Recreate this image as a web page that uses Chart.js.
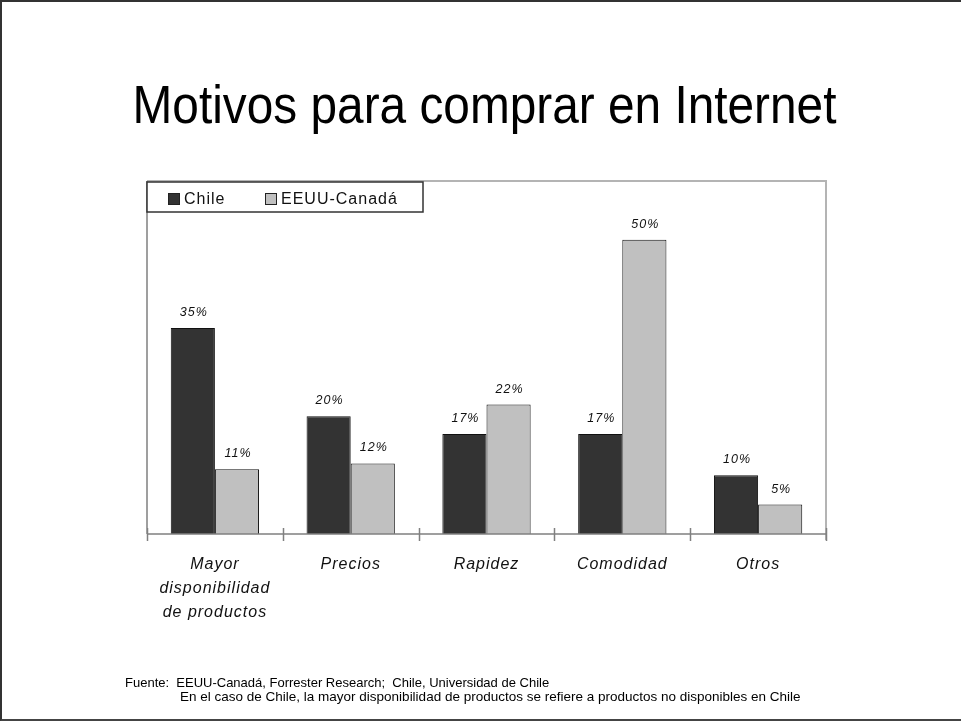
<!DOCTYPE html>
<html>
<head>
<meta charset="utf-8">
<title>Motivos para comprar en Internet</title>
<script src="https://cdn.jsdelivr.net/npm/chart.js@4/dist/chart.umd.min.js"></script>
<style>
  html, body { margin: 0; padding: 0; background: #fff; }
  #slide {
    position: relative; width: 961px; height: 721px; box-sizing: border-box;
    border-left: 2px solid #333; border-top: 2px solid #333; border-bottom: 2px solid #444;
    font-family: "Liberation Sans", Arial, sans-serif; color: #000; overflow: hidden;
  }
  #chartCanvas { position: absolute; left: -2px; top: -2px; }
  #title {
    position: absolute; left: -2px; top: 75px; width: 969px; text-align: center;
    font-size: 54px; line-height: 54px; white-space: nowrap;
    transform: scaleX(0.885); transform-origin: 484.5px 0;
  }
  .nota { position: absolute; line-height: 15px; white-space: nowrap; }
</style>
</head>
<body>
<div id="slide">
  <div id="title">Motivos para comprar en Internet</div>
  <canvas id="chartCanvas" width="961" height="721"></canvas>
  <div class="nota" style="left:123px; top:673px; font-size:13px;">Fuente:&nbsp; EEUU-Canadá, Forrester Research;&nbsp; Chile, Universidad de Chile</div>
  <div class="nota" style="left:178px; top:687px; font-size:13.5px;">En el caso de Chile, la mayor disponibilidad de productos se refiere a productos no disponibles en Chile</div>
</div>
<script>
const categories = [
  ["Mayor", "disponibilidad", "de productos"],
  "Precios",
  "Rapidez",
  "Comodidad",
  "Otros"
];
const chileValues = [35, 20, 17, 17, 10];
const eeuuValues = [11, 12, 22, 50, 5];
const seriesNames = ["Chile", "EEUU-Canadá"];
const seriesColors = ["#333333", "#c0c0c0"];

// spacing between letters, as the old slide renderer did
const spacingPlugin = {
  id: "spacing",
  beforeDraw(chart) { chart.ctx.letterSpacing = "1px"; }
};

// plot frame, category axis with its tick marks
const framePlugin = {
  id: "frame",
  afterDatasetsDraw(chart) {
    const ctx = chart.ctx;
    const a = chart.chartArea;
    const x = chart.scales.x;
    ctx.save();
    ctx.strokeStyle = "#b4b4b4";
    ctx.lineWidth = 2;
    ctx.beginPath();
    ctx.moveTo(a.left, a.top);
    ctx.lineTo(a.right, a.top);
    ctx.lineTo(a.right, a.bottom + 6);
    ctx.stroke();

    ctx.strokeStyle = "#808080";
    ctx.lineWidth = 1.5;
    ctx.beginPath();
    ctx.moveTo(a.left, a.top);
    ctx.lineTo(a.left, a.bottom);
    ctx.moveTo(a.left, a.bottom);
    ctx.lineTo(a.right, a.bottom);
    const step = (a.right - a.left) / categories.length;
    for (let i = 0; i <= categories.length; i++) {
      const px = Math.round(x.getPixelForValue(0) - step / 2 + i * step) + 0.5;
      ctx.moveTo(px, a.bottom - 6);
      ctx.lineTo(px, a.bottom + 7);
    }
    ctx.stroke();
    ctx.restore();
  }
};

// percentage above each bar
const valueLabels = {
  id: "valueLabels",
  afterDatasetsDraw(chart) {
    const ctx = chart.ctx;
    ctx.save();
    ctx.font = "italic 12.5px 'Liberation Sans', Arial, sans-serif";
    ctx.fillStyle = "#111";
    ctx.textAlign = "center";
    ctx.textBaseline = "alphabetic";
    chart.data.datasets.forEach((ds, di) => {
      chart.getDatasetMeta(di).data.forEach((bar, i) => {
        ctx.fillText(ds.data[i] + "%", bar.x + 1, bar.y - 12);
      });
    });
    ctx.restore();
  }
};

// boxed legend in the upper left corner of the plot
const boxLegend = {
  id: "boxLegend",
  afterDraw(chart) {
    const ctx = chart.ctx;
    const a = chart.chartArea;
    const left = a.left, top = a.top + 1;
    ctx.save();
    ctx.fillStyle = "#fff";
    ctx.fillRect(left, top, 276, 30);
    ctx.strokeStyle = "#333";
    ctx.lineWidth = 1.5;
    ctx.strokeRect(left, top, 276, 30);
    ctx.font = "16px 'Liberation Sans', Arial, sans-serif";
    ctx.textBaseline = "middle";
    const offsets = [21, 118];
    chart.data.datasets.forEach((ds, i) => {
      const sx = left + offsets[i];
      ctx.fillStyle = ds.backgroundColor;
      ctx.fillRect(sx, top + 11, 11, 11);
      ctx.strokeStyle = "#222";
      ctx.lineWidth = 1;
      ctx.strokeRect(sx + 0.5, top + 11.5, 11, 11);
      ctx.fillStyle = "#111";
      ctx.fillText(ds.label, sx + 16, top + 18);
    });
    ctx.restore();
  }
};

const ctx = document.getElementById("chartCanvas").getContext("2d");

new Chart(ctx, {
  type: "bar",
  data: {
    labels: categories,
    datasets: [
      {
        label: seriesNames[0],
        data: chileValues,
        backgroundColor: seriesColors[0],
        borderColor: "#111",
        borderWidth: 1
      },
      {
        label: seriesNames[1],
        data: eeuuValues,
        backgroundColor: seriesColors[1],
        borderColor: "#111",
        borderWidth: 1
      }
    ]
  },
  options: {
    responsive: false,
    animation: false,
    categoryPercentage: 0.65,
    barPercentage: 1,
    layout: { padding: { left: 147, right: 135, top: 181, bottom: 87 } },
    plugins: {
      legend: { display: false },
      tooltip: { enabled: false }
    },
    scales: {
      x: {
        grid: { display: false, drawTicks: false },
        border: { display: false },
        ticks: {
          padding: 19,
          color: "#111",
          font: { family: "'Liberation Sans', Arial, sans-serif", size: 16, style: "italic", lineHeight: 1.5 }
        },
        afterFit(scale) { scale.height = 100; }
      },
      y: {
        display: false,
        min: 0,
        max: 60
      }
    }
  },
  plugins: [spacingPlugin, framePlugin, valueLabels, boxLegend]
});
</script>
</body>
</html>
